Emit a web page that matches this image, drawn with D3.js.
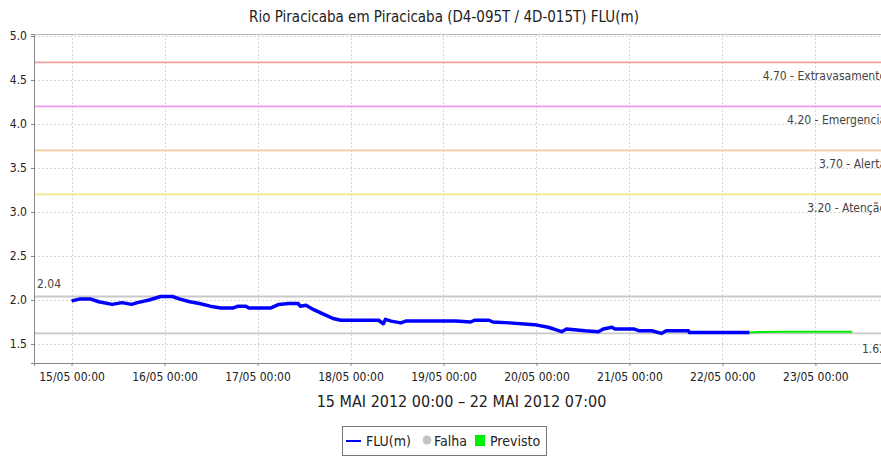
<!DOCTYPE html>
<html>
<head>
<meta charset="utf-8">
<script src="https://cdn.jsdelivr.net/npm/d3@7"></script>
<style>
  html, body { margin: 0; padding: 0; background: #fff; }
  svg { display: block; font-family: "DejaVu Sans Condensed", "DejaVu Sans", sans-serif; }
</style>
</head>
<body>
<svg id="chart" width="881" height="457"></svg>
<script>
// Observed river level (FLU, metres)
const flowTimes = [
  "2012-05-15T00:00","2012-05-15T02:00","2012-05-15T05:00","2012-05-15T07:00","2012-05-15T10:30","2012-05-15T13:00","2012-05-15T15:30","2012-05-15T17:00","2012-05-15T20:00","2012-05-15T23:00",
  "2012-05-16T02:00","2012-05-16T04:00","2012-05-16T06:30","2012-05-16T09:00","2012-05-16T11:45","2012-05-16T14:30","2012-05-16T17:45","2012-05-16T19:00","2012-05-16T21:00","2012-05-16T21:45",
  "2012-05-17T03:30","2012-05-17T05:30","2012-05-17T08:00","2012-05-17T10:30","2012-05-17T11:00","2012-05-17T12:30","2012-05-17T14:30","2012-05-17T17:00","2012-05-17T18:00","2012-05-17T19:30","2012-05-17T21:30",
  "2012-05-18T07:15","2012-05-18T08:30","2012-05-18T09:00","2012-05-18T10:30","2012-05-18T13:00","2012-05-18T14:15","2012-05-18T18:15",
  "2012-05-19T03:15","2012-05-19T07:00","2012-05-19T08:00","2012-05-19T11:45","2012-05-19T12:45","2012-05-19T17:00","2012-05-19T23:30",
  "2012-05-20T03:00","2012-05-20T04:30","2012-05-20T06:30","2012-05-20T07:45","2012-05-20T12:30","2012-05-20T16:00","2012-05-20T17:15","2012-05-20T19:30","2012-05-20T20:15",
  "2012-05-21T01:15","2012-05-21T02:30","2012-05-21T05:45","2012-05-21T08:15","2012-05-21T09:30","2012-05-21T12:45","2012-05-21T15:15","2012-05-21T15:30",
  "2012-05-22T07:00"
];
const flowValues = [
  1.99,2.01,2.01,1.98,1.95,1.97,1.95,1.97,2.00,2.04,
  2.04,2.01,1.98,1.96,1.93,1.91,1.91,1.93,1.93,1.91,
  1.91,1.95,1.96,1.96,1.93,1.94,1.89,1.84,1.82,1.79,1.77,
  1.77,1.73,1.78,1.76,1.74,1.76,1.76,
  1.76,1.75,1.77,1.77,1.75,1.74,1.72,
  1.69,1.67,1.64,1.67,1.65,1.64,1.67,1.69,1.67,
  1.67,1.65,1.65,1.62,1.65,1.65,1.65,1.63,
  1.63
];

// Forecast (Previsto)
const forecastTimes = ["2012-05-22T07:00","2012-05-22T09:30","2012-05-22T15:30","2012-05-22T21:30","2012-05-23T03:30","2012-05-23T09:30"];
const forecastValues = [1.63,1.635,1.64,1.64,1.64,1.64];

// Alert thresholds
const thresholdValues = [4.70, 4.20, 3.70, 3.20];
const thresholdNames = ["Extravasamento", "Emergencia", "Alerta", "Atenção"];
const thresholdColors = ["#f4a09c", "#f29af2", "#f7c89a", "#f3e68a"];

// Axes
const xDomain = ["2012-05-14T14:18", "2012-05-23T19:00"];
const yDomain = [1.284, 5.023];
const yTickValues = [1.5, 2.0, 2.5, 3.0, 3.5, 4.0, 4.5, 5.0];
const xTickTimes = ["2012-05-15T00:00","2012-05-16T00:00","2012-05-17T00:00","2012-05-18T00:00","2012-05-19T00:00","2012-05-20T00:00","2012-05-21T00:00","2012-05-22T00:00","2012-05-23T00:00"];

const titleText = "Rio Piracicaba em Piracicaba (D4-095T / 4D-015T) FLU(m)";
const periodText = "15 MAI 2012 00:00 – 22 MAI 2012 07:00";
const legendNames = ["FLU(m)", "Falha", "Previsto"];

const parse = d3.utcParse("%Y-%m-%dT%H:%M");
const flow = flowTimes.map((t, i) => ({ t: parse(t), v: flowValues[i] }));
const forecast = forecastTimes.map((t, i) => ({ t: parse(t), v: forecastValues[i] }));

const plot = { left: 34, right: 889, top: 34, bottom: 363 };
const svg = d3.select("#chart");

const x = d3.scaleUtc().domain(xDomain.map(parse)).range([plot.left, plot.right]);
const y = d3.scaleLinear().domain(yDomain).range([plot.bottom, plot.top]);

svg.append("defs").append("clipPath").attr("id", "plotClip")
  .append("rect").attr("x", plot.left).attr("y", plot.top)
  .attr("width", plot.right - plot.left).attr("height", plot.bottom - plot.top);

// Title
svg.append("text").attr("x", 444).attr("y", 22).attr("text-anchor", "middle")
  .attr("font-size", 15).attr("fill", "#222").text(titleText);

// Grid
const grid = svg.append("g");
grid.selectAll("line.h").data(yTickValues).join("line")
  .attr("x1", plot.left).attr("x2", plot.right)
  .attr("y1", d => Math.round(y(d)) + 0.5).attr("y2", d => Math.round(y(d)) + 0.5)
  .attr("stroke", "#d6d6d6").attr("stroke-dasharray", "2,2");
grid.selectAll("line.v").data(xTickTimes.map(parse)).join("line")
  .attr("x1", d => Math.round(x(d)) + 0.5).attr("x2", d => Math.round(x(d)) + 0.5)
  .attr("y1", plot.top).attr("y2", plot.bottom)
  .attr("stroke", "#d6d6d6").attr("stroke-dasharray", "2,2");

// Threshold lines and labels
const th = svg.append("g");
thresholdValues.forEach((v, i) => {
  th.append("line").attr("x1", plot.left).attr("x2", plot.right)
    .attr("y1", y(v)).attr("y2", y(v))
    .attr("stroke", thresholdColors[i]).attr("stroke-width", 1.6);
  th.append("text").attr("x", plot.right - 3).attr("y", y(v) + 18)
    .attr("text-anchor", "end").attr("font-size", 12).attr("fill", "#444")
    .text(d3.format(".2f")(v) + " - " + thresholdNames[i]);
});

// Max / min reference lines
const vMax = d3.max(flow, d => d.v), vMin = d3.min(flow, d => d.v);
svg.append("line").attr("x1", plot.left).attr("x2", plot.right)
  .attr("y1", y(vMax)).attr("y2", y(vMax)).attr("stroke", "#c8c8c8").attr("stroke-width", 1.8);
svg.append("line").attr("x1", plot.left).attr("x2", plot.right)
  .attr("y1", y(vMin)).attr("y2", y(vMin)).attr("stroke", "#c8c8c8").attr("stroke-width", 1.8);
svg.append("text").attr("x", plot.left + 3).attr("y", y(vMax) - 8)
  .attr("font-size", 12).attr("fill", "#444").text(d3.format(".2f")(vMax));
svg.append("text").attr("x", plot.right - 3).attr("y", y(vMin) + 20).attr("text-anchor", "end")
  .attr("font-size", 12).attr("fill", "#444").text(d3.format(".2f")(vMin));

// Series
const line = d3.line().x(d => x(d.t)).y(d => y(d.v));
const series = svg.append("g").attr("clip-path", "url(#plotClip)");
series.append("path").datum(forecast).attr("d", line)
  .attr("fill", "none").attr("stroke", "#00ee00").attr("stroke-width", 2);
series.append("path").datum(flow).attr("d", line)
  .attr("fill", "none").attr("stroke", "#0000ff").attr("stroke-width", 3.5)
  .attr("stroke-linejoin", "round");

// Axes
const yAxis = svg.append("g").attr("transform", `translate(${plot.left},0)`)
  .call(d3.axisLeft(y).tickValues(yTickValues).tickFormat(d3.format(".1f")).tickSize(3).tickPadding(4));
const xAxis = svg.append("g").attr("transform", `translate(0,${plot.bottom})`)
  .call(d3.axisBottom(x).tickValues(xTickTimes.map(parse)).tickFormat(d3.utcFormat("%d/%m %H:%M")).tickSize(3).tickPadding(6));
[yAxis, xAxis].forEach(g => {
  g.select(".domain").attr("stroke", "#888");
  g.selectAll(".tick line").attr("stroke", "#888");
  g.selectAll(".tick text").attr("font-size", 12).attr("fill", "#222")
    .attr("font-family", "'DejaVu Sans Condensed', 'DejaVu Sans', sans-serif");
});
// top border of the plot
svg.append("line").attr("x1", plot.left).attr("x2", plot.right)
  .attr("y1", plot.top + 0.5).attr("y2", plot.top + 0.5).attr("stroke", "#bbb");

// Period label
svg.append("text").attr("x", (plot.left + plot.right) / 2).attr("y", 407).attr("text-anchor", "middle")
  .attr("font-size", 16).attr("fill", "#222").text(periodText);

// Legend
const lg = svg.append("g");
lg.append("rect").attr("x", 342.5).attr("y", 426.5).attr("width", 204).attr("height", 29)
  .attr("fill", "#fff").attr("stroke", "#777");
lg.append("line").attr("x1", 346).attr("x2", 361).attr("y1", 441).attr("y2", 441)
  .attr("stroke", "#0000ff").attr("stroke-width", 2);
lg.append("text").attr("x", 366).attr("y", 446).attr("font-size", 14).attr("fill", "#222").text(legendNames[0]);
lg.append("circle").attr("cx", 427).attr("cy", 440).attr("r", 4.5).attr("fill", "#c4c4c4");
lg.append("text").attr("x", 434).attr("y", 446).attr("font-size", 14).attr("fill", "#222").text(legendNames[1]);
lg.append("rect").attr("x", 475).attr("y", 435).attr("width", 10).attr("height", 11).attr("fill", "#00ee00");
lg.append("text").attr("x", 490).attr("y", 446).attr("font-size", 14).attr("fill", "#222").text(legendNames[2]);
</script>
</body>
</html>
